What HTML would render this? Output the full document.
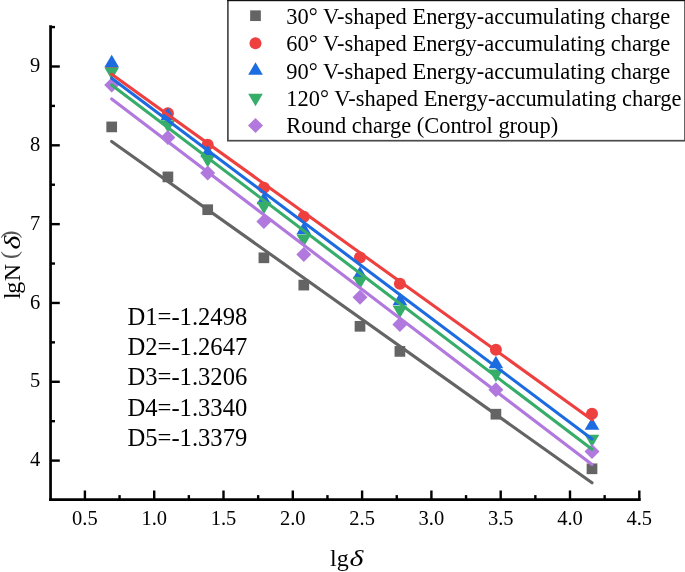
<!DOCTYPE html>
<html><head><meta charset="utf-8"><style>html,body{margin:0;padding:0;background:#fff;}body{width:685px;height:572px;overflow:hidden;}svg{display:block;will-change:transform;}</style></head>
<body><svg width="685" height="572" viewBox="0 0 685 572">
<rect width="685" height="572" fill="#fff"/>
<rect x="106.35" y="121.55" width="10.7" height="10.7" fill="#646464"/>
<rect x="162.55" y="171.55" width="10.7" height="10.7" fill="#646464"/>
<rect x="202.35" y="204.35" width="10.7" height="10.7" fill="#646464"/>
<rect x="258.55" y="252.45" width="10.7" height="10.7" fill="#646464"/>
<rect x="298.45" y="279.75" width="10.7" height="10.7" fill="#646464"/>
<rect x="354.65" y="320.95" width="10.7" height="10.7" fill="#646464"/>
<rect x="394.55" y="346.05" width="10.7" height="10.7" fill="#646464"/>
<rect x="490.55" y="408.85" width="10.7" height="10.7" fill="#646464"/>
<rect x="586.65" y="463.45" width="10.7" height="10.7" fill="#646464"/>
<circle cx="111.70" cy="67.30" r="6.0" fill="#EF4040"/>
<circle cx="167.90" cy="113.30" r="6.0" fill="#EF4040"/>
<circle cx="207.70" cy="144.80" r="6.0" fill="#EF4040"/>
<circle cx="263.90" cy="187.80" r="6.0" fill="#EF4040"/>
<circle cx="303.80" cy="216.80" r="6.0" fill="#EF4040"/>
<circle cx="360.00" cy="257.40" r="6.0" fill="#EF4040"/>
<circle cx="399.90" cy="283.70" r="6.0" fill="#EF4040"/>
<circle cx="495.90" cy="349.80" r="6.0" fill="#EF4040"/>
<circle cx="592.00" cy="413.80" r="6.0" fill="#EF4040"/>
<path d="M111.70 54.67L119.00 67.17L104.40 67.17Z" fill="#1C6BE0"/>
<path d="M167.90 107.57L175.20 120.07L160.60 120.07Z" fill="#1C6BE0"/>
<path d="M207.70 144.87L215.00 157.37L200.40 157.37Z" fill="#1C6BE0"/>
<path d="M263.90 191.87L271.20 204.37L256.60 204.37Z" fill="#1C6BE0"/>
<path d="M303.80 221.87L311.10 234.37L296.50 234.37Z" fill="#1C6BE0"/>
<path d="M360.00 266.17L367.30 278.67L352.70 278.67Z" fill="#1C6BE0"/>
<path d="M399.90 292.77L407.20 305.27L392.60 305.27Z" fill="#1C6BE0"/>
<path d="M495.90 355.87L503.20 368.37L488.60 368.37Z" fill="#1C6BE0"/>
<path d="M592.00 417.27L599.30 429.77L584.70 429.77Z" fill="#1C6BE0"/>
<path d="M111.70 79.93L119.00 67.43L104.40 67.43Z" fill="#37AD6A"/>
<path d="M167.90 132.73L175.20 120.23L160.60 120.23Z" fill="#37AD6A"/>
<path d="M207.70 167.43L215.00 154.93L200.40 154.93Z" fill="#37AD6A"/>
<path d="M263.90 214.23L271.20 201.73L256.60 201.73Z" fill="#37AD6A"/>
<path d="M303.80 247.03L311.10 234.53L296.50 234.53Z" fill="#37AD6A"/>
<path d="M360.00 289.13L367.30 276.63L352.70 276.63Z" fill="#37AD6A"/>
<path d="M399.90 318.13L407.20 305.63L392.60 305.63Z" fill="#37AD6A"/>
<path d="M495.90 381.93L503.20 369.43L488.60 369.43Z" fill="#37AD6A"/>
<path d="M592.00 447.13L599.30 434.63L584.70 434.63Z" fill="#37AD6A"/>
<path d="M111.70 77.60L119.20 85.10L111.70 92.60L104.20 85.10Z" fill="#B178DE"/>
<path d="M167.90 130.00L175.40 137.50L167.90 145.00L160.40 137.50Z" fill="#B178DE"/>
<path d="M207.70 165.60L215.20 173.10L207.70 180.60L200.20 173.10Z" fill="#B178DE"/>
<path d="M263.90 214.10L271.40 221.60L263.90 229.10L256.40 221.60Z" fill="#B178DE"/>
<path d="M303.80 247.00L311.30 254.50L303.80 262.00L296.30 254.50Z" fill="#B178DE"/>
<path d="M360.00 289.70L367.50 297.20L360.00 304.70L352.50 297.20Z" fill="#B178DE"/>
<path d="M399.90 317.10L407.40 324.60L399.90 332.10L392.40 324.60Z" fill="#B178DE"/>
<path d="M495.90 382.30L503.40 389.80L495.90 397.30L488.40 389.80Z" fill="#B178DE"/>
<path d="M592.00 444.00L599.50 451.50L592.00 459.00L584.50 451.50Z" fill="#B178DE"/>
<line x1="111.67" y1="141.40" x2="592.00" y2="482.79" stroke="#646464" stroke-width="3.1" stroke-linecap="round"/>
<line x1="111.67" y1="74.20" x2="592.00" y2="419.66" stroke="#EF4040" stroke-width="3.1" stroke-linecap="round"/>
<line x1="111.67" y1="78.20" x2="592.00" y2="438.93" stroke="#1C6BE0" stroke-width="3.1" stroke-linecap="round"/>
<line x1="111.67" y1="84.90" x2="592.00" y2="449.29" stroke="#37AD6A" stroke-width="3.1" stroke-linecap="round"/>
<line x1="111.67" y1="99.00" x2="592.00" y2="464.46" stroke="#B178DE" stroke-width="3.1" stroke-linecap="round"/>
<g stroke="#000" fill="none">
<line x1="50.55" y1="25.2" x2="50.55" y2="500.95000000000005" stroke-width="2.7"/>
<line x1="49.199999999999996" y1="499.6" x2="640.7" y2="499.6" stroke-width="2.7"/>
<line x1="84.90" y1="499.6" x2="84.90" y2="490.5" stroke-width="2.4"/>
<line x1="119.55" y1="499.6" x2="119.55" y2="495.1" stroke-width="2.4"/>
<line x1="154.20" y1="499.6" x2="154.20" y2="490.5" stroke-width="2.4"/>
<line x1="188.85" y1="499.6" x2="188.85" y2="495.1" stroke-width="2.4"/>
<line x1="223.50" y1="499.6" x2="223.50" y2="490.5" stroke-width="2.4"/>
<line x1="258.15" y1="499.6" x2="258.15" y2="495.1" stroke-width="2.4"/>
<line x1="292.80" y1="499.6" x2="292.80" y2="490.5" stroke-width="2.4"/>
<line x1="327.45" y1="499.6" x2="327.45" y2="495.1" stroke-width="2.4"/>
<line x1="362.10" y1="499.6" x2="362.10" y2="490.5" stroke-width="2.4"/>
<line x1="396.75" y1="499.6" x2="396.75" y2="495.1" stroke-width="2.4"/>
<line x1="431.40" y1="499.6" x2="431.40" y2="490.5" stroke-width="2.4"/>
<line x1="466.05" y1="499.6" x2="466.05" y2="495.1" stroke-width="2.4"/>
<line x1="500.70" y1="499.6" x2="500.70" y2="490.5" stroke-width="2.4"/>
<line x1="535.35" y1="499.6" x2="535.35" y2="495.1" stroke-width="2.4"/>
<line x1="570.00" y1="499.6" x2="570.00" y2="490.5" stroke-width="2.4"/>
<line x1="604.65" y1="499.6" x2="604.65" y2="495.1" stroke-width="2.4"/>
<line x1="639.30" y1="499.6" x2="639.30" y2="490.5" stroke-width="2.4"/>
<line x1="50.55" y1="460.60" x2="59.8" y2="460.60" stroke-width="2.4"/>
<line x1="50.55" y1="381.78" x2="59.8" y2="381.78" stroke-width="2.4"/>
<line x1="50.55" y1="302.96" x2="59.8" y2="302.96" stroke-width="2.4"/>
<line x1="50.55" y1="224.14" x2="59.8" y2="224.14" stroke-width="2.4"/>
<line x1="50.55" y1="145.32" x2="59.8" y2="145.32" stroke-width="2.4"/>
<line x1="50.55" y1="66.50" x2="59.8" y2="66.50" stroke-width="2.4"/>
<line x1="50.55" y1="421.19" x2="55" y2="421.19" stroke-width="2.4"/>
<line x1="50.55" y1="342.37" x2="55" y2="342.37" stroke-width="2.4"/>
<line x1="50.55" y1="263.55" x2="55" y2="263.55" stroke-width="2.4"/>
<line x1="50.55" y1="184.73" x2="55" y2="184.73" stroke-width="2.4"/>
<line x1="50.55" y1="105.91" x2="55" y2="105.91" stroke-width="2.4"/>
<line x1="50.55" y1="27.09" x2="55" y2="27.09" stroke-width="2.4"/>
</g>
<g font-family="Liberation Serif" font-size="20.5" fill="#000">
<text x="84.90" y="525.3" text-anchor="middle">0.5</text>
<text x="154.20" y="525.3" text-anchor="middle">1.0</text>
<text x="223.50" y="525.3" text-anchor="middle">1.5</text>
<text x="292.80" y="525.3" text-anchor="middle">2.0</text>
<text x="362.10" y="525.3" text-anchor="middle">2.5</text>
<text x="431.40" y="525.3" text-anchor="middle">3.0</text>
<text x="500.70" y="525.3" text-anchor="middle">3.5</text>
<text x="570.00" y="525.3" text-anchor="middle">4.0</text>
<text x="639.30" y="525.3" text-anchor="middle">4.5</text>
<text x="40.2" y="466.30" text-anchor="end">4</text>
<text x="40.2" y="387.48" text-anchor="end">5</text>
<text x="40.2" y="308.66" text-anchor="end">6</text>
<text x="40.2" y="229.84" text-anchor="end">7</text>
<text x="40.2" y="151.02" text-anchor="end">8</text>
<text x="40.2" y="72.20" text-anchor="end">9</text>
</g>
<text x="330" y="566.3" font-family="Liberation Serif" font-size="24">lg</text>
<text transform="translate(349.5,566.3) scale(1.24,1)" font-family="Liberation Serif" font-size="24" font-style="italic">δ</text>
<text transform="translate(19.6,299.1) rotate(-90)" font-family="Liberation Serif" font-size="24">l</text>
<text transform="translate(19.6,293.7) rotate(-90)" font-family="Liberation Serif" font-size="24">g</text>
<text transform="translate(19.6,281.2) rotate(-90)" font-family="Liberation Serif" font-size="24">N</text>
<text transform="translate(16.9,258.9) rotate(-90)" font-family="Liberation Serif" font-size="24" fill="#555">(</text>
<text transform="translate(20.0,249.6) rotate(-90) scale(1.24,1)" font-family="Liberation Serif" font-size="24" font-style="italic">δ</text>
<text transform="translate(16.9,238.5) rotate(-90)" font-family="Liberation Serif" font-size="24" fill="#555">)</text>
<g font-family="Liberation Serif" font-size="24.6" fill="#000">
<text x="127.5" y="324.70">D1=-1.2498</text>
<text x="127.5" y="355.00">D2=-1.2647</text>
<text x="127.5" y="385.30">D3=-1.3206</text>
<text x="127.5" y="415.60">D4=-1.3340</text>
<text x="127.5" y="445.90">D5=-1.3379</text>
</g>
<rect x="227.9" y="0.3" width="457.1" height="140.4" fill="#fff" stroke="#4a4a4a" stroke-width="1.7"/>
<rect x="227" y="0" width="458" height="1.1" fill="#111"/>
<rect x="250.15" y="10.35" width="10.7" height="10.7" fill="#646464"/>
<circle cx="255.50" cy="43.25" r="6.0" fill="#EF4040"/>
<path d="M255.50 62.37L262.80 74.87L248.20 74.87Z" fill="#1C6BE0"/>
<path d="M255.50 106.33L262.80 93.83L248.20 93.83Z" fill="#37AD6A"/>
<path d="M255.50 118.00L263.00 125.50L255.50 133.00L248.00 125.50Z" fill="#B178DE"/>
<g font-family="Liberation Serif" font-size="22.45" fill="#000">
<text x="286.3" y="24.10">30° V-shaped Energy-accumulating charge</text>
<text x="286.3" y="51.30">60° V-shaped Energy-accumulating charge</text>
<text x="286.3" y="78.50">90° V-shaped Energy-accumulating charge</text>
<text x="286.3" y="105.70">120° V-shaped Energy-accumulating charge</text>
<text x="286.3" y="132.90">Round charge (Control group)</text>
</g>
</svg></body></html>
